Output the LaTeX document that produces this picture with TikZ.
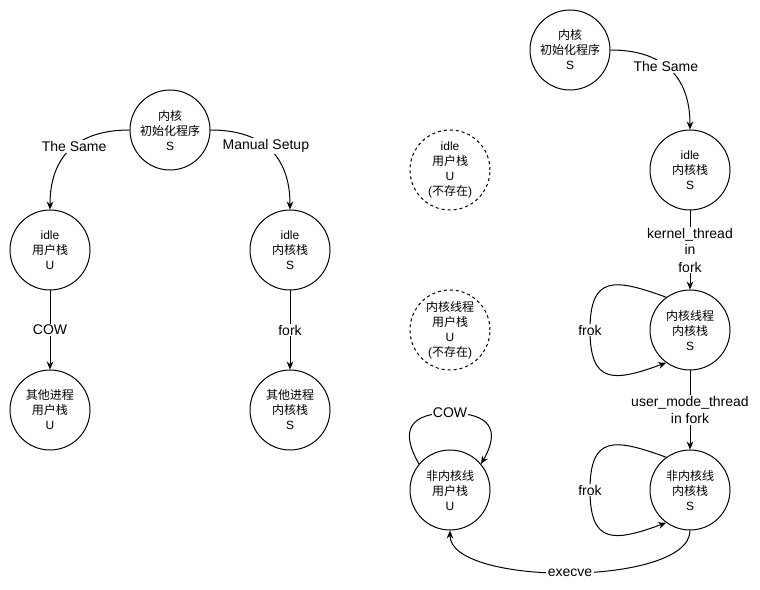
\documentclass[tikz,border=0pt]{standalone}
\usepackage{fontspec}
\setmainfont{Liberation Sans}
\newfontfamily\cjk{Noto Sans CJK SC}
\usetikzlibrary{arrows.meta}

\begin{document}
\begin{tikzpicture}[x=0.75pt, y=0.75pt,
  stackcirc/.style={draw, circle, line width=0.75pt, minimum size=60pt, inner sep=0pt,
    align=center, font=\fontsize{9}{11.25}\selectfont},
  ghostcirc/.style={stackcirc, dash pattern=on 2.25pt off 2.25pt},
  edgelbl/.style={fill=white, inner sep=1pt, align=center, font=\fontsize{10.5}{12.75}\selectfont},
  flow/.style={-{Stealth[length=6pt,width=5pt]}, line width=0.75pt}]

\useasboundingbox (0,0) rectangle (760,589);

% Left: one init program, two stacks
\node[stackcirc] (initL) at (170,459) {{\cjk 内核}\\{\cjk 初始化程序}\\S};
\node[stackcirc] (idleU) at (50,339) {idle\\{\cjk 用户栈}\\U};
\node[stackcirc] (idleS) at (290,339) {idle\\{\cjk 内核栈}\\S};
\node[stackcirc] (otherU) at (50,179) {{\cjk 其他进程}\\{\cjk 用户栈}\\U};
\node[stackcirc] (otherS) at (290,179) {{\cjk 其他进程}\\{\cjk 内核栈}\\S};

\draw[flow] (initL.west) to[out=180, in=90, looseness=1.2] node[edgelbl, pos=0.45] {The Same} (idleU.north);
\draw[flow] (initL.east) to[out=0, in=90, looseness=1.2] node[edgelbl, pos=0.45] {Manual Setup} (idleS.north);
\draw[flow] (idleU) -- node[edgelbl] {COW} (otherU);
\draw[flow] (idleS) -- node[edgelbl] {fork} (otherS);

% Middle: user stacks that do not exist
\node[ghostcirc] (idleUx) at (450,419) {idle\\{\cjk 用户栈}\\U\\({\cjk 不存在})};
\node[ghostcirc] (kthrUx) at (450,259) {{\cjk 内核线程}\\{\cjk 用户栈}\\U\\({\cjk 不存在})};
\node[stackcirc] (ukU) at (450,99) {{\cjk 非内核线}\\{\cjk 用户栈}\\U};

% Right: kernel stacks
\node[stackcirc] (initR) at (570,539) {{\cjk 内核}\\{\cjk 初始化程序}\\S};
\node[stackcirc] (idleR) at (690,419) {idle\\{\cjk 内核栈}\\S};
\node[stackcirc] (kthr) at (690,259) {{\cjk 内核线程}\\{\cjk 内核栈}\\S};
\node[stackcirc] (ukS) at (690,99) {{\cjk 非内核线}\\{\cjk 内核栈}\\S};

% loop turning points
\coordinate (kfrok) at (590,259);
\coordinate (ufrok) at (590,99);
\coordinate (cowtop) at (450,176);

\draw[flow] (initR.east) to[out=0, in=90, looseness=1.2] node[edgelbl, pos=0.45] {The Same} (idleR.north);
\draw[flow] (idleR) -- node[edgelbl] {kernel\_thread\\in\\fork} (kthr);
\draw[flow] (kthr.126) to[out=160, in=90, looseness=1.7] (kfrok) node[edgelbl] {frok}
  to[out=270, in=200, looseness=1.7] (kthr.234);
\draw[flow] (kthr) -- node[edgelbl] {user\_mode\_thread\\in fork} (ukS);
\draw[flow] (ukS.126) to[out=160, in=90, looseness=1.7] (ufrok) node[edgelbl] {frok}
  to[out=270, in=200, looseness=1.7] (ukS.234);
\draw[flow] (ukU.140) to[out=120, in=180, looseness=1.7] (cowtop) node[edgelbl] {COW}
  to[out=0, in=60, looseness=1.7] (ukU.40);
\draw[flow] (ukS.south) to[out=270, in=270, looseness=0.6] node[edgelbl] {execve} (ukU.south);

\end{tikzpicture}
\end{document}
